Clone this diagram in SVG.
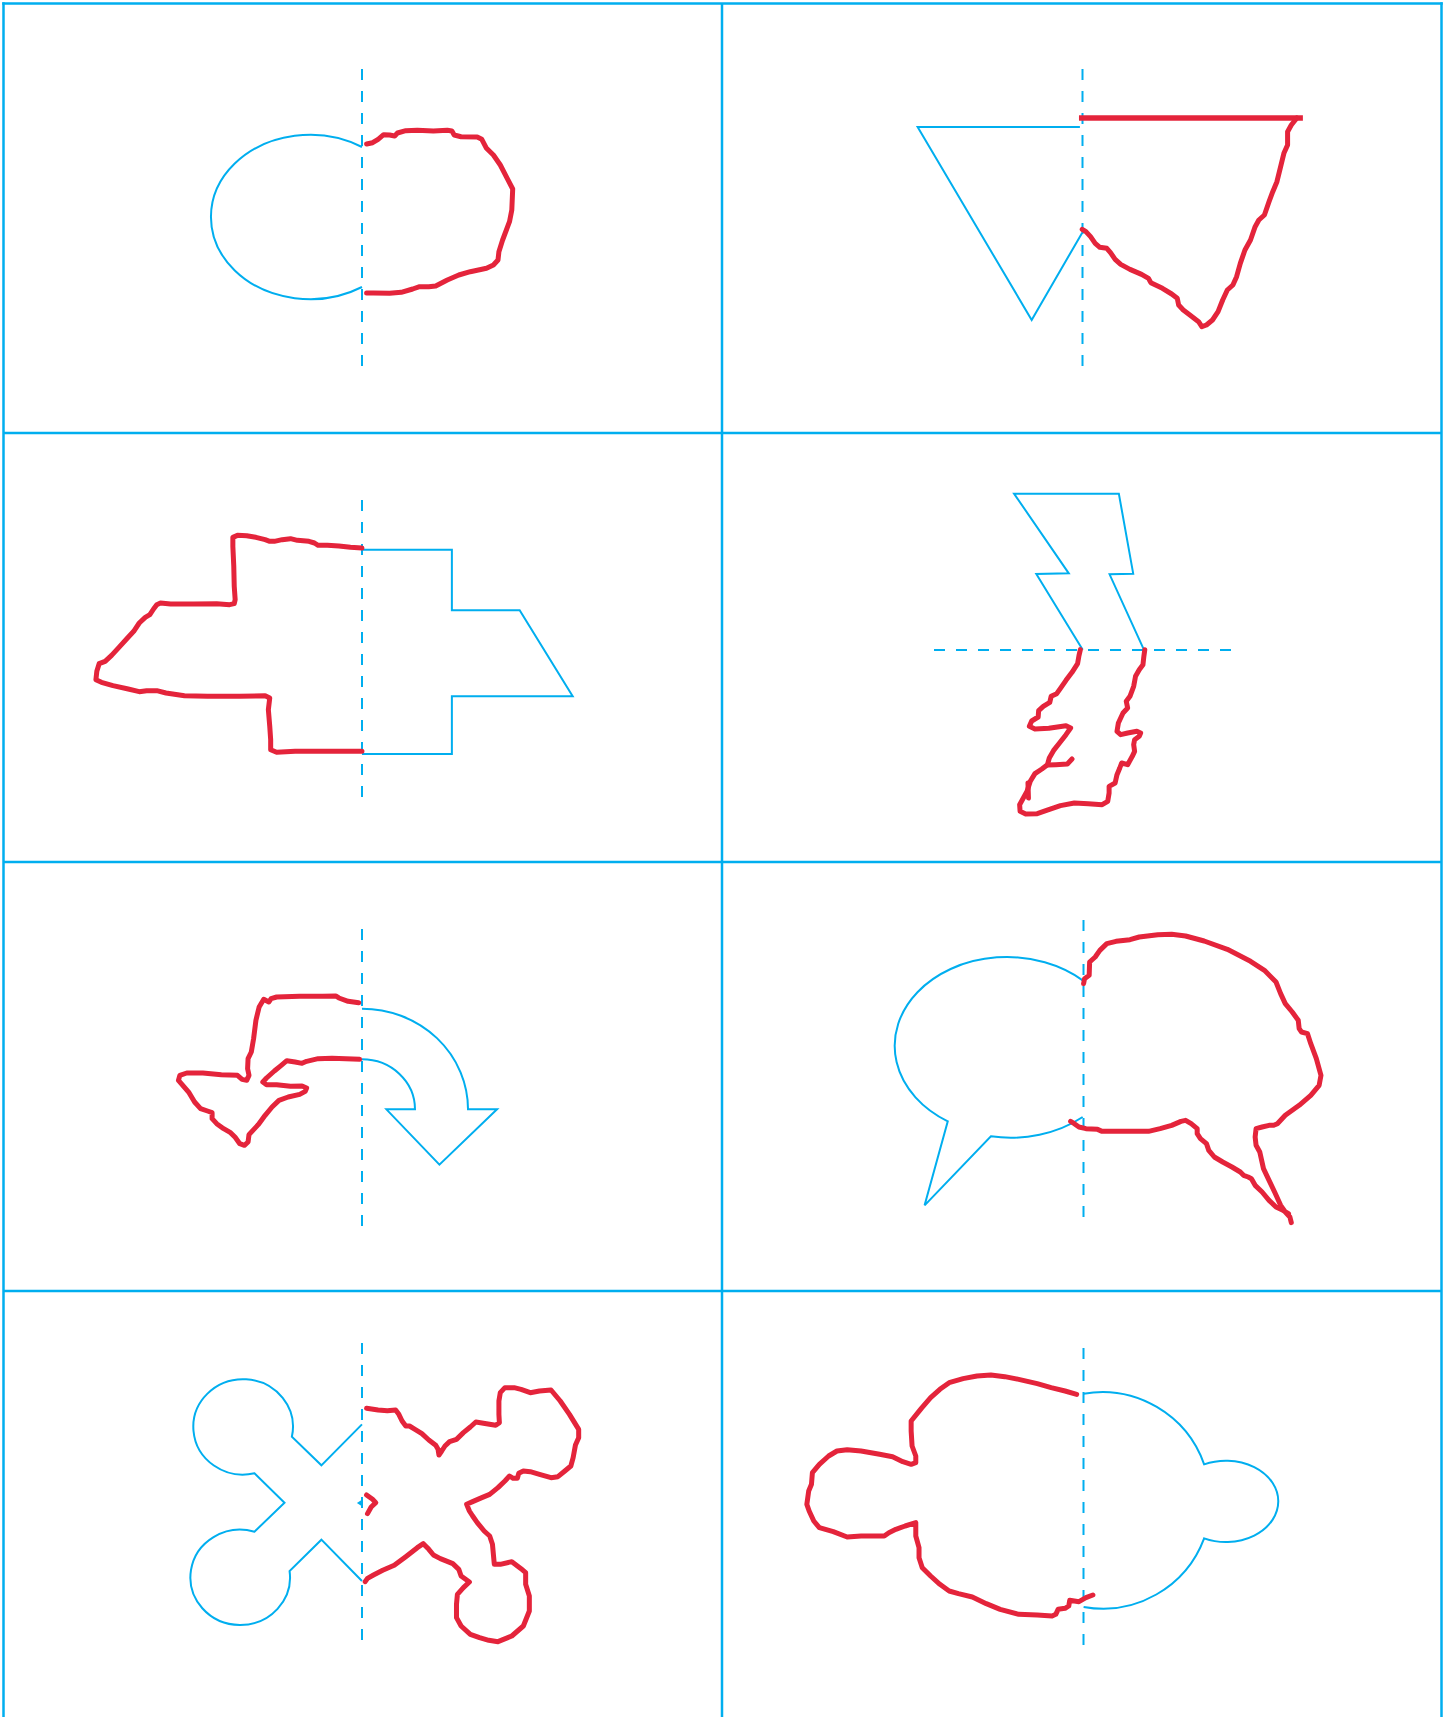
<svg xmlns="http://www.w3.org/2000/svg" width="1448" height="1717" viewBox="0 0 1448 1717">
<style>
.grid{fill:none;stroke:#00AEEF;stroke-width:2.5}
.axis{fill:none;stroke:#00AEEF;stroke-width:2;stroke-dasharray:11 11}
.b{fill:none;stroke:#00AEEF;stroke-width:2;stroke-linejoin:miter;vector-effect:non-scaling-stroke}
.r{fill:none;stroke:#E4243B;stroke-width:5;stroke-linejoin:round;stroke-linecap:round;vector-effect:non-scaling-stroke}
.rt{fill:none;stroke:#E4243B;stroke-width:5.5;stroke-linecap:butt;vector-effect:non-scaling-stroke}
</style>
<rect width="1448" height="1717" fill="#fff"/>
<g id="grid">
<line class="grid" x1="3.5" y1="2.25" x2="3.5" y2="1717"/>
<line class="grid" x1="722" y1="3.5" x2="722" y2="1717"/>
<line class="grid" x1="1441.5" y1="2.25" x2="1441.5" y2="1717"/>
<line class="grid" x1="2.25" y1="3.5" x2="1442.75" y2="3.5"/>
<line class="grid" x1="3.5" y1="433" x2="1441.5" y2="433"/>
<line class="grid" x1="3.5" y1="862" x2="1441.5" y2="862"/>
<line class="grid" x1="3.5" y1="1291" x2="1441.5" y2="1291"/>
</g>
<g id="axes">
<line class="axis" x1="362" y1="69" x2="362" y2="367"/>
<line class="axis" x1="1082.5" y1="69" x2="1082.5" y2="367"/>
<line class="axis" x1="362" y1="500" x2="362" y2="798"/>
<line class="axis" x1="934" y1="650" x2="1231" y2="650"/>
<line class="axis" x1="362" y1="929" x2="362" y2="1226"/>
<line class="axis" x1="1083.5" y1="920" x2="1083.5" y2="1219"/>
<line class="axis" x1="362" y1="1343" x2="362" y2="1641"/>
<line class="axis" x1="1083.5" y1="1348" x2="1083.5" y2="1646"/>
</g>
<g id="cell1">
<path class="b" d="M362,147 A99.1,82.2 0 1 0 362,287"/>
<path class="r" d="M366.6,144 L372.6,142.7 L378.1,139.3 L383.6,134.7 L389.6,135 L394.7,136 L397.5,133 L405.8,130.7 L417.3,130.3 L433.4,131 L447.3,130.3 L451.9,131 L454.2,135 L461.1,136.7 L477.2,137 L481.8,139.3 L486.5,148.3 L493.4,155 L500.3,165 L507.2,178.3 L512.7,189 L511.8,210 L509.5,221.7 L502.6,240 L498.9,251.7 L498,260 L493.4,265 L486.5,268.3 L470.3,271.7 L458.8,275 L447.3,280 L435.7,286 L428.8,286.7 L419.6,286.7 L412.7,289 L401.2,292.3 L389.6,293.3 L373.5,293 L366.6,293"/>
</g>
<g id="cell2" transform="translate(722,0) scale(0.4636,0.33333)">
<path class="b" d="M772,381 L422,381 L668,960 L777,698"/>
<path class="rt" d="M770,354 L1253,354"/>
<path class="r" d="M1240,354 L1228,375 L1220,395 L1220,435 L1212,460 L1205,500 L1197,545 L1188,575 L1180,605 L1170,645 L1158,660 L1150,680 L1140,720 L1128,750 L1118,790 L1110,830 L1102,855 L1090,870 L1080,900 L1070,935 L1058,960 L1045,975 L1035,980 L1028,965 L1012,948 L995,930 L985,915 L982,895 L970,882 L950,865 L925,848 L920,835 L905,823 L880,808 L860,793 L848,778 L838,758 L830,745 L815,742 L805,730 L795,710 L785,695 L777,688"/>
</g>
<g id="cell3" transform="translate(0,433) scale(0.4611,0.33333)">
<path class="b" d="M785,350 L980,350 L980,532 L1127,532 L1242,790 L980,790 L980,963 L785,963"/>
<path class="r" d="M785,345 L760,343 L735,339 L710,337 L690,337 L682,330 L670,325 L645,322 L630,317 L612,320 L595,325 L585,325 L575,320 L555,313 L535,308 L515,307 L505,313 L505,340 L507,400 L508,460 L510,500 L508,512 L498,515 L470,512 L420,513 L370,513 L348,510 L340,515 L333,528 L325,545 L315,553 L302,570 L290,595 L275,617 L258,643 L242,667 L228,685 L215,692 L210,715 L208,740 L220,748 L245,758 L278,768 L302,776 L318,773 L340,773 L360,780 L400,788 L450,790 L520,790 L575,788 L585,795 L582,830 L585,880 L587,920 L587,950 L600,958 L640,955 L700,955 L785,955"/>
</g>
<g id="cell4" transform="translate(722,433) scale(0.4636,0.33333)">
<path class="b" d="M778,650 L678,423 L748,421 L630,182 L856,182 L887,422 L836,424 L910,650"/>
<path class="r" d="M773,650 L770,668 L767,692 L755,718 L742,742 L730,766 L722,782 L710,790 L707,808 L693,820 L683,833 L682,852 L668,864 L663,880 L675,888 L705,886 L742,878 L752,885 L742,905 L728,930 L715,953 L706,975 L702,995 L690,1008 L675,1022 L665,1045 L658,1075 L650,1095 L642,1115 L643,1135 L655,1143 L680,1142 L700,1132 L730,1118 L760,1110 L790,1112 L820,1115 L832,1105 L835,1080 L835,1060 L848,1050 L852,1025 L858,1005 L862,990 L875,995 L885,970 L890,955 L888,935 L890,920 L900,910 L903,900 L895,895 L875,900 L860,905 L852,895 L855,870 L865,840 L875,825 L872,805 L880,790 L888,760 L892,730 L900,710 L908,695 L910,670 L912,650"/>
<path class="r" d="M702,996 L720,995 L745,993 L755,978"/>
<path class="r" d="M660,1050 L661,1095"/>
</g>
<g id="cell5" transform="translate(0,862) scale(0.4611,0.33333)">
<path class="b" d="M785,440 A230,302 0 0 1 1015,742 L1078,742 L953,908 L838,742 L900,742 A115,150 0 0 0 785,592"/>
<path class="r" d="M778,422 L755,418 L735,408 L728,402 L700,403 L650,403 L600,405 L588,410 L583,420 L572,412 L562,435 L555,475 L550,530 L545,570 L538,590 L537,620 L540,640 L535,655 L525,652 L515,640 L480,638 L440,633 L405,633 L390,640 L387,655 L395,668 L410,692 L422,720 L435,740 L450,747 L460,752 L460,770 L470,785 L485,800 L500,812 L510,826 L520,845 L530,850 L538,840 L540,818 L548,806 L560,788 L575,760 L590,735 L605,715 L625,705 L650,697 L662,688 L665,678 L655,672 L630,673 L600,668 L578,668 L570,660 L578,648 L595,627 L610,610 L622,596 L640,600 L655,604 L665,598 L690,590 L720,589 L780,592"/>
</g>
<g id="cell6" transform="translate(722,862) scale(0.4636,0.33333)">
<path class="b" d="M778,355 A242,266.5 0 1 0 487,778 L437,1030 L580,823 A242,266.5 0 0 0 778,765"/>
<path class="r" d="M780,365 L782,350 L792,340 L793,300 L805,285 L815,265 L830,245 L850,238 L880,233 L900,225 L940,218 L970,217 L1000,222 L1040,237 L1090,262 L1140,298 L1170,325 L1195,360 L1205,395 L1215,425 L1230,450 L1243,475 L1245,500 L1250,510 L1263,515 L1270,545 L1282,590 L1292,640 L1288,670 L1270,700 L1245,730 L1215,760 L1198,785 L1190,790 L1180,790 L1165,795 L1152,800 L1150,825 L1152,850 L1160,870 L1168,920 L1180,955 L1192,990 L1205,1030 L1215,1050 L1225,1065 L1228,1082 M1222,1055 L1210,1045 L1195,1035 L1180,1015 L1165,990 L1150,970 L1142,950 L1135,945 L1125,940 L1118,930 L1100,915 L1080,900 L1062,885 L1050,865 L1045,845 L1032,830 L1025,815 L1025,800 L1012,785 L1000,775 L990,778 L970,790 L945,800 L920,808 L870,808 L830,808 L820,808 L810,802 L785,800 L770,795 L760,785 L752,778"/>
</g>
<g id="cell7" transform="translate(0,1291) scale(0.4611,0.33333)">
<path class="b" d="M785,400 L697,523 L633,437 A108,143 0 1 0 552,547 L617,635 L552,722 A108,143 0 1 0 628,840 L697,746 L785,870"/>
<path d="M785,626 L774,636 L785,646 Z" fill="#00AEEF"/>
<path class="r" d="M795,352 L820,357 L840,359 L858,357 L865,370 L872,390 L880,405 L888,405 L900,415 L915,428 L930,447 L945,463 L950,475 L952,492 L958,480 L965,465 L975,452 L990,445 L1005,425 L1020,408 L1032,393 L1055,398 L1075,403 L1083,395 L1082,370 L1082,330 L1085,305 L1095,290 L1115,290 L1130,295 L1150,305 L1170,300 L1195,297 L1215,330 L1235,370 L1255,415 L1255,440 L1248,462 L1243,500 L1238,525 L1225,540 L1210,557 L1195,560 L1170,550 L1150,542 L1135,540 L1125,547 L1122,562 L1113,562 L1105,555 L1095,570 L1080,590 L1062,610 L1045,620 L1025,632 L1012,640 L1018,660 L1025,675 L1035,695 L1050,720 L1062,735 L1068,760 L1070,790 L1072,820 L1085,820 L1110,812 L1130,833 L1140,845 L1140,880 L1148,915 L1148,960 L1135,1005 L1110,1035 L1080,1052 L1060,1048 L1040,1040 L1020,1030 L1000,1005 L990,980 L990,940 L992,910 L1005,890 L1018,873 L1000,855 L995,835 L982,818 L955,803 L940,792 L930,775 L918,758 L905,770 L880,797 L855,823 L830,838 L810,852 L797,862 L792,872"/>
<path class="r" d="M795,612 L808,625 L815,635 L805,648 L797,668"/>
</g>
<g id="cell8" transform="translate(722,1291) scale(0.4636,0.33333)">
<path class="b" d="M780,308 A233.6,325 0 0 1 1040,520 A113,122 0 1 1 1040,742 A233.6,325 0 0 1 780,948"/>
<path class="r" d="M765,310 L740,300 L710,290 L680,278 L640,265 L610,257 L580,252 L550,255 L520,263 L490,275 L470,295 L450,320 L430,352 L408,390 L408,420 L410,465 L418,495 L418,515 L408,520 L390,512 L368,497 L340,490 L300,480 L270,476 L248,480 L230,495 L210,520 L195,545 L193,580 L187,600 L183,640 L188,660 L198,690 L210,710 L240,722 L270,738 L300,735 L350,735 L360,725 L375,715 L395,705 L418,695 L418,735 L425,770 L425,800 L432,830 L450,855 L470,880 L490,900 L510,908 L540,918 L570,938 L600,955 L640,970 L680,972 L712,975 L720,970 L725,955 L740,952 L748,945 L750,928 L760,930 L770,932 L785,920 L800,912"/>
</g>
</svg>
